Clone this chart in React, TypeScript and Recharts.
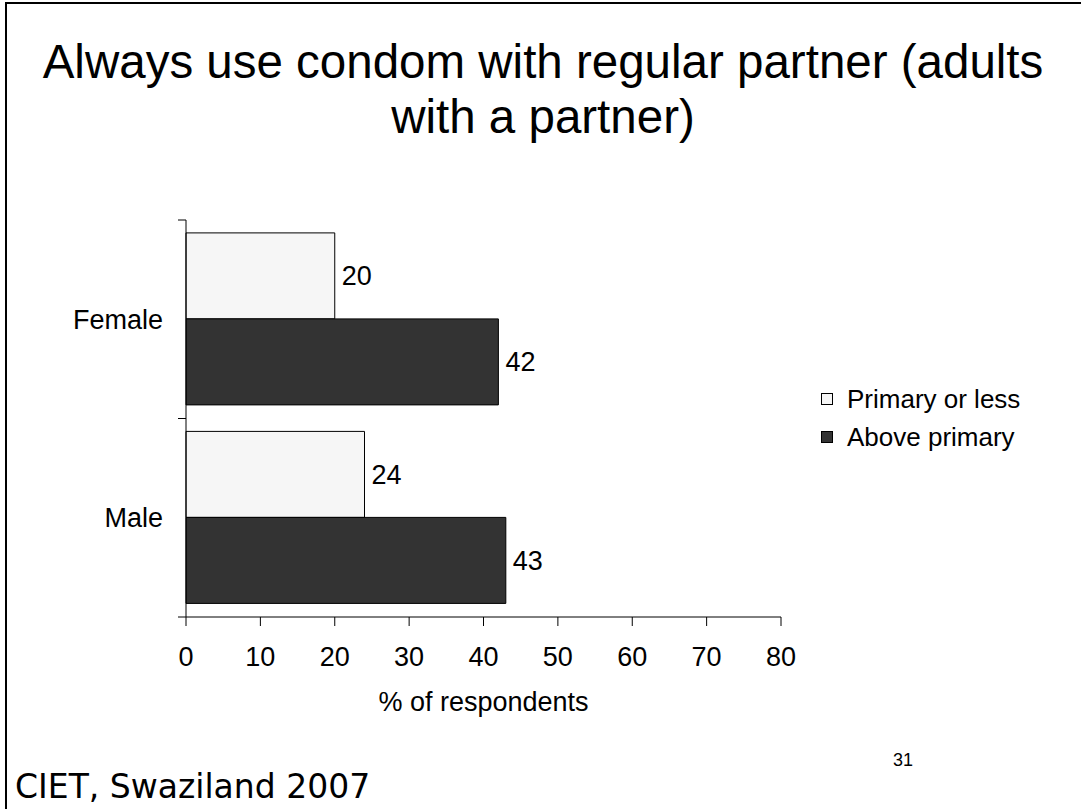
import React from "react";
import {
  BarChart,
  Bar,
  XAxis,
  YAxis,
  LabelList,
  Legend,
} from "recharts";

const categories = ["Female", "Male"];
const primaryOrLess = [20, 24];
const abovePrimary = [42, 43];
const xTicks = [0, 10, 20, 30, 40, 50, 60, 70, 80];

const seriesNames = ["Primary or less", "Above primary"];
const seriesFills = ["#f6f6f6", "#333333"];

const data = categories.map((c, i) => ({
  category: c,
  primary: primaryOrLess[i],
  above: abovePrimary[i],
}));

const FONT = "'Liberation Sans', Arial, sans-serif";
const Y_TICK = 8;
const Y_GAP = 15;

// category ticks sit at band edges, like the original
function YTick(props: any) {
  const { x, y, payload, index, visibleTicksCount } = props;
  const half = payload?.offset ?? 99;
  const ax = x + Y_TICK + Y_GAP;
  return (
    <g>
      <line x1={ax - Y_TICK} x2={ax} y1={y - half} y2={y - half} stroke="#000" />
      {index === visibleTicksCount - 1 && (
        <line x1={ax - Y_TICK} x2={ax} y1={y + half} y2={y + half} stroke="#000" />
      )}
      <text
        x={x}
        y={y}
        dy="0.355em"
        textAnchor="end"
        fontSize={27}
        fontFamily={FONT}
        fill="#000"
      >
        {payload.value}
      </text>
    </g>
  );
}

function LegendBox() {
  return (
    <div style={{ fontFamily: FONT, fontSize: 26, color: "#000" }}>
      {seriesNames.map((n, i) => (
        <div
          key={n}
          style={{ display: "flex", alignItems: "center", height: 38 }}
        >
          <span
            style={{
              display: "inline-block",
              width: 10,
              height: 10,
              border: "1px solid #000",
              background: seriesFills[i],
              marginRight: 14,
            }}
          />
          {n}
        </div>
      ))}
    </div>
  );
}

export default function App() {
  return (
    <div
      style={{
        position: "absolute",
        left: 0,
        top: 0,
        width: 1081,
        height: 809,
        background: "#fff",
        overflow: "hidden",
      }}
    >
      <div
        style={{
          position: "absolute",
          left: 5,
          top: 2,
          width: 1100,
          height: 900,
          borderLeft: "2px solid #000",
          borderTop: "2px solid #000",
        }}
      />
      <div
        style={{
          position: "absolute",
          left: 0,
          top: 34,
          width: 1086,
          textAlign: "center",
          fontFamily: FONT,
          fontSize: 47.5,
          lineHeight: "55px",
          color: "#000",
        }}
      >
        Always use condom with regular partner (adults
        <br />
        with a partner)
      </div>
      <div style={{ position: "absolute", left: 0, top: 0 }}>
        <BarChart
          width={1081}
          height={809}
          data={data}
          layout="vertical"
          margin={{ top: 220, right: 300, bottom: 92, left: 0 }}
          barCategoryGap="6.5%"
          barGap={0}
        >
          <XAxis
            type="number"
            domain={[0, 80]}
            ticks={xTicks}
            interval={0}
            height={100}
            tickSize={9}
            tickMargin={21}
            axisLine={{ stroke: "#000" }}
            tickLine={{ stroke: "#000" }}
            tick={{ fill: "#000", fontSize: 27, fontFamily: FONT }}
            label={{
              value: "% of respondents",
              position: "insideBottom",
              offset: 6,
              fill: "#000",
              fontSize: 27,
              fontFamily: FONT,
            }}
          />
          <YAxis
            type="category"
            dataKey="category"
            width={186}
            tickSize={Y_TICK}
            tickMargin={Y_GAP}
            axisLine={{ stroke: "#000" }}
            tickLine={false}
            tick={<YTick />}
          />
          <Legend
            layout="vertical"
            align="center"
            verticalAlign="middle"
            wrapperStyle={{ left: 821, top: 380, width: 255 }}
            content={() => <LegendBox />}
          />
          <Bar
            dataKey="primary"
            name={seriesNames[0]}
            fill={seriesFills[0]}
            stroke="#000"
            strokeWidth={1}
            isAnimationActive={false}
          >
            <LabelList
              dataKey="primary"
              position="right"
              offset={7}
              fill="#000"
              fontSize={27}
              fontFamily={FONT}
            />
          </Bar>
          <Bar
            dataKey="above"
            name={seriesNames[1]}
            fill={seriesFills[1]}
            stroke="#000"
            strokeWidth={1}
            isAnimationActive={false}
          >
            <LabelList
              dataKey="above"
              position="right"
              offset={7}
              fill="#000"
              fontSize={27}
              fontFamily={FONT}
            />
          </Bar>
        </BarChart>
      </div>
      <div
        style={{
          position: "absolute",
          left: 893,
          top: 751,
          fontFamily: FONT,
          fontSize: 18,
          lineHeight: "18px",
          color: "#000",
        }}
      >
        31
      </div>
      <div
        style={{
          position: "absolute",
          left: 15,
          top: 770,
          fontFamily: "'DejaVu Sans', Verdana, sans-serif",
          fontSize: 33,
          lineHeight: "33px",
          color: "#000",
          whiteSpace: "nowrap",
        }}
      >
        CIET, Swaziland 2007
      </div>
    </div>
  );
}
